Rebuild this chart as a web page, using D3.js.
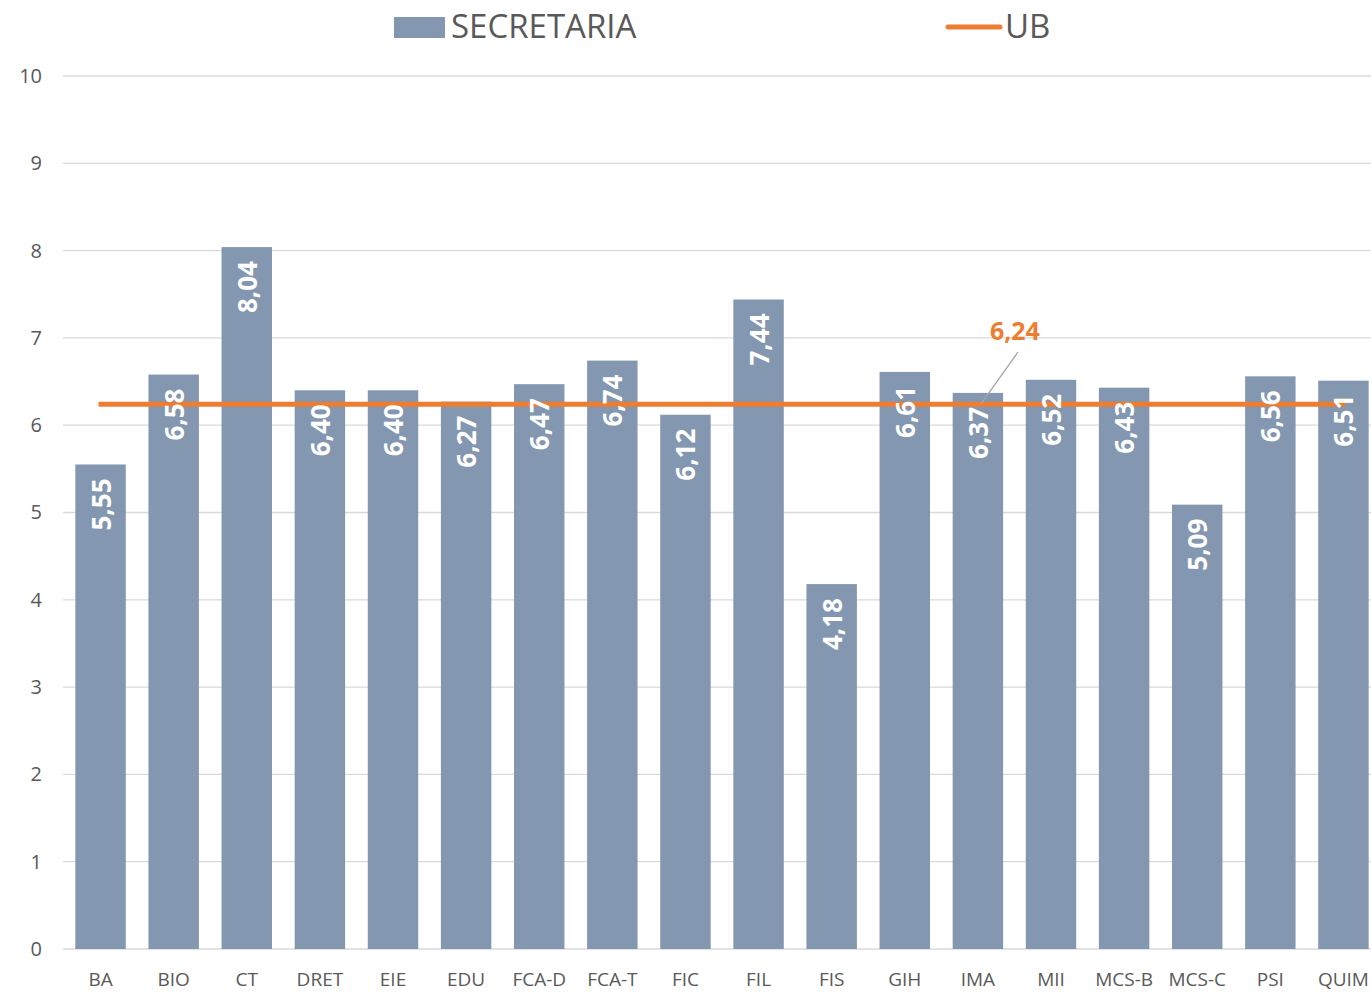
<!DOCTYPE html>
<html>
<head>
<meta charset="utf-8">
<script src="https://cdn.jsdelivr.net/npm/d3@7"></script>
<style>
  body { margin: 0; background: #fff; }
  svg { display: block; }
</style>
</head>
<body>
<div id="chart"></div>
<script>
// Data
const categories = ["BA", "BIO", "CT", "DRET", "EIE", "EDU", "FCA-D", "FCA-T", "FIC", "FIL",
  "FIS", "GIH", "IMA", "MII", "MCS-B", "MCS-C", "PSI", "QUIM"];
const secretaria = [5.55, 6.58, 8.04, 6.40, 6.40, 6.27, 6.47, 6.74, 6.12, 7.44,
  4.18, 6.61, 6.37, 6.52, 6.43, 5.09, 6.56, 6.51];
const ubValue = 6.24;
const yTicks = [0, 1, 2, 3, 4, 5, 6, 7, 8, 9, 10];

const width = 1371;
const height = 992;
const margin = { top: 76, right: -9, bottom: 43, left: 64 };

const barColor = "#8497b0";
const lineColor = "#ed7d31";
const textColor = "#595959";
const fontFamily = "'Liberation Sans Narrow', 'Open Sans', sans-serif";

const fmt = (v) => v.toFixed(2).replace(".", ",");

const svg = d3
  .select("#chart")
  .append("svg")
  .attr("width", width)
  .attr("height", height);

// Scales
const xScale = d3
  .scaleBand()
  .domain(categories)
  .range([margin.left, width - margin.right])
  .paddingInner(0.31)
  .paddingOuter(0.155);

const yScale = d3
  .scaleLinear()
  .domain([0, 10])
  .range([height - margin.bottom, margin.top]);

// Gridlines
svg
  .append("g")
  .selectAll("line")
  .data(yTicks)
  .enter()
  .append("line")
  .attr("x1", 63)
  .attr("x2", width)
  .attr("y1", (d) => yScale(d))
  .attr("y2", (d) => yScale(d))
  .attr("stroke", "#d9d9d9")
  .attr("stroke-width", 1.3);

// Y axis labels
const yAxis = d3.axisLeft(yScale).tickValues(yTicks).tickSize(0).tickPadding(22);
const gy = svg.append("g").attr("transform", `translate(${margin.left}, 0)`).call(yAxis);
gy.select(".domain").remove();
gy.selectAll("text")
  .attr("fill", textColor)
  .style("font-family", "'Open Sans', sans-serif")
  .style("font-size", "20px");

// X axis labels
const xAxis = d3.axisBottom(xScale).tickSize(0).tickPadding(24);
const gx = svg
  .append("g")
  .attr("transform", `translate(0, ${height - margin.bottom})`)
  .call(xAxis);
gx.select(".domain").remove();
gx.selectAll("text")
  .attr("fill", textColor)
  .style("font-family", "'Open Sans', sans-serif")
  .style("font-size", "19px");

// Bars
svg
  .append("g")
  .selectAll("rect")
  .data(secretaria)
  .enter()
  .append("rect")
  .attr("x", (d, i) => xScale(categories[i]))
  .attr("y", (d) => yScale(d))
  .attr("width", xScale.bandwidth())
  .attr("height", (d) => yScale(0) - yScale(d))
  .attr("fill", barColor);

// UB line, from first to last category centre
const half = xScale.bandwidth() / 2;
svg
  .append("line")
  .attr("x1", xScale(categories[0]) + half - 2)
  .attr("x2", xScale(categories[categories.length - 1]) + half + 2)
  .attr("y1", yScale(ubValue))
  .attr("y2", yScale(ubValue))
  .attr("stroke", lineColor)
  .attr("stroke-width", 5);

// Bar value labels (rotated, inside top)
svg
  .append("g")
  .selectAll("text")
  .data(secretaria)
  .enter()
  .append("text")
  .attr("transform", (d, i) => {
    const x = xScale(categories[i]) + half + 10;
    const y = yScale(d) + 14;
    return `translate(${x}, ${y}) rotate(-90)`;
  })
  .attr("text-anchor", "end")
  .attr("fill", "#fff")
  .style("font-family", "'Open Sans', sans-serif")
  .style("font-weight", "bold")
  .style("font-size", "26px")
  .text((d) => fmt(d));

// UB value label with leader line (placed on IMA)
const imaX = xScale("IMA") + half;
svg
  .append("line")
  .attr("x1", imaX + 3)
  .attr("y1", yScale(ubValue))
  .attr("x2", imaX + 40)
  .attr("y2", yScale(ubValue) - 52)
  .attr("stroke", "#a6a6a6")
  .attr("stroke-width", 1.3);

svg
  .append("text")
  .attr("x", imaX + 37)
  .attr("y", yScale(ubValue) - 64)
  .attr("text-anchor", "middle")
  .attr("fill", lineColor)
  .style("font-family", "'Open Sans', sans-serif")
  .style("font-weight", "bold")
  .style("font-size", "25px")
  .text(fmt(ubValue));

// Legend
const legend = svg.append("g");
legend
  .append("rect")
  .attr("x", 394)
  .attr("y", 17)
  .attr("width", 51)
  .attr("height", 21)
  .attr("fill", barColor);
legend
  .append("text")
  .attr("x", 451)
  .attr("y", 38)
  .attr("fill", textColor)
  .style("font-family", fontFamily)
  .style("font-size", "33px")
  .text("SECRETARIA");
legend
  .append("line")
  .attr("x1", 948)
  .attr("x2", 1000)
  .attr("y1", 27)
  .attr("y2", 27)
  .attr("stroke", lineColor)
  .attr("stroke-width", 5)
  .attr("stroke-linecap", "round");
legend
  .append("text")
  .attr("x", 1005)
  .attr("y", 38)
  .attr("fill", textColor)
  .style("font-family", fontFamily)
  .style("font-size", "33px")
  .text("UB");
</script>
</body>
</html>
